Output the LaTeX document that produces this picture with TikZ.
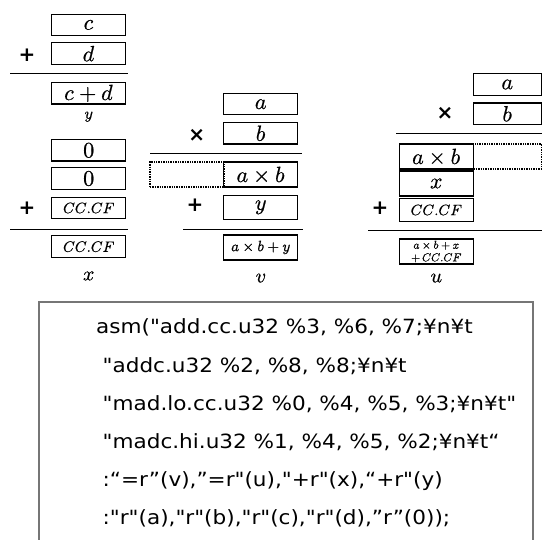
\documentclass[tikz,border=0pt]{standalone}
\usepackage{fontspec}
\usepackage{unicode-math}
\setmathfont{Latin Modern Math}[FakeBold=0.7]
\newfontfamily\codefont[FakeStretch=1.1,Ligatures=TeXOff]{DejaVu Sans}
\newfontfamily\opfont{DejaVu Sans}
\definecolor{framegray}{RGB}{118,118,118}
\begin{document}
\begin{tikzpicture}[x=1pt,y=-1pt,
  cell/.style={draw, line width=1.1pt, minimum width=74pt, minimum height=21.5pt,
    inner sep=0pt, font=\fontsize{22}{22}\selectfont},
  tallcell/.style={cell, minimum height=25pt},
  smallcell/.style={cell, font=\fontsize{15}{15}\selectfont},
  gap/.style={draw, densely dotted, line width=1.4pt, minimum width=74pt,
    minimum height=25pt, inner sep=0pt},
  op/.style={font=\opfont\bfseries\fontsize{20}{20}\selectfont, inner sep=0pt},
  tag/.style={font=\fontsize{20}{20}\selectfont, inner sep=0pt},
  rule/.style={line width=1.3pt},
  codeline/.style={anchor=base west, inner sep=0pt,
    font=\codefont\fontsize{19.6}{19.6}\selectfont},
]
\useasboundingbox (0,0) rectangle (542,540);

% ---- y = c + d, and x = 0 + 0 + CC.CF ----
\node[cell] (c)  at (88.7,24.9)  {$c$};
\node[cell] (d)  at (88.7,53.7)  {$d$};
\node[op]   (pd) at (27,55)      {+};
\draw[rule] (10,73.5) -- (128,73.5);
\node[cell] (cd) at (88.7,93.3)  {$c+d$};
\node[tag, font=\fontsize{16}{16}\selectfont] (ly) at (88.7,116.7) {$y$};

\node[cell] (z1) at (88.7,150.3) {$0$};
\node[cell] (z2) at (88.7,178.5) {$0$};
\node[smallcell] (cf1) at (88.7,208) {$CC.CF$};
\node[op]   (px) at (27,208)     {+};
\draw[rule] (10,229.5) -- (128,229.5);
\node[smallcell] (cf2) at (88.7,246.7) {$CC.CF$};
\node[tag]  (lx) at (88.7,276)   {$x$};

% ---- v = a*b (low) + y ----
\node[cell] (a1) at (260.7,104.2) {$a$};
\node[cell] (b1) at (260.7,133.3) {$b$};
\node[op]   (m1) at (196.7,135)   {×};
\draw[rule] (150,153.5) -- (301.7,153.5);
\node[gap]  (hi1) at (187,174.5)  {};
\node[tallcell] (ab1) at (260.7,174.5) {$a\times b$};
\node[op]   (pv) at (195,205)     {+};
\node[cell, minimum height=24pt] (y1) at (260.7,207.2) {$y$};
\draw[rule] (183,229.5) -- (302.7,229.5);
\node[tallcell, font=\fontsize{15}{15}\selectfont] (v) at (260.7,247.5) {$a\times b+y$};
\node[tag]  (lv) at (260.7,278)   {$v$};

% ---- u = a*b (high) + x + CC.CF ----
\node[cell, minimum width=68pt] (a2) at (507.3,84.5)  {$a$};
\node[cell, minimum width=68pt] (b2) at (507.3,113.8) {$b$};
\node[op]   (m2) at (445,113.3)   {×};
\draw[rule] (396,133.5) -- (542,133.5);
\node[tallcell] (ab2) at (436.3,156.5) {$a\times b$};
\node[gap, minimum width=68pt] (lo2) at (507.3,156.5) {};
\node[tallcell] (x2) at (436.3,183.5) {$x$};
\node[smallcell, minimum height=23.4pt] (cf3) at (436.3,210) {$CC.CF$};
\node[op]   (pu) at (380,208.3)   {+};
\draw[rule] (368,230.5) -- (542,230.5);
\node[tallcell, font=\fontsize{11.5}{12.5}\selectfont, align=center] (u) at (436.3,251.5)
  {$a\times b+x$\\$+\,CC.CF$};
\node[tag]  (lu) at (436.3,278)   {$u$};

% ---- inline assembly listing ----
\draw[framegray, line width=1.2pt] (39,302) rectangle (533,560);
\node[codeline] (l1) at (96,334)    {asm("add.cc.u32 \%3, \%6, \%7;¥n¥t};
\node[codeline] (l2) at (102.5,372.3) {"addc.u32 \%2, \%8, \%8;¥n¥t};
\node[codeline] (l3) at (102.5,410.5) {"mad.lo.cc.u32 \%0, \%4, \%5, \%3;¥n¥t"};
\node[codeline] (l4) at (102.5,448.7) {"madc.hi.u32 \%1, \%4, \%5, \%2;¥n¥t“};
\node[codeline] (l5) at (102.5,486.9) {:“=r”(v),”=r"(u),"+r"(x),“+r"(y)};
\node[codeline] (l6) at (102.5,525)   {:"r"(a),"r"(b),"r"(c),"r"(d),”r”(0));};
\end{tikzpicture}
\end{document}
